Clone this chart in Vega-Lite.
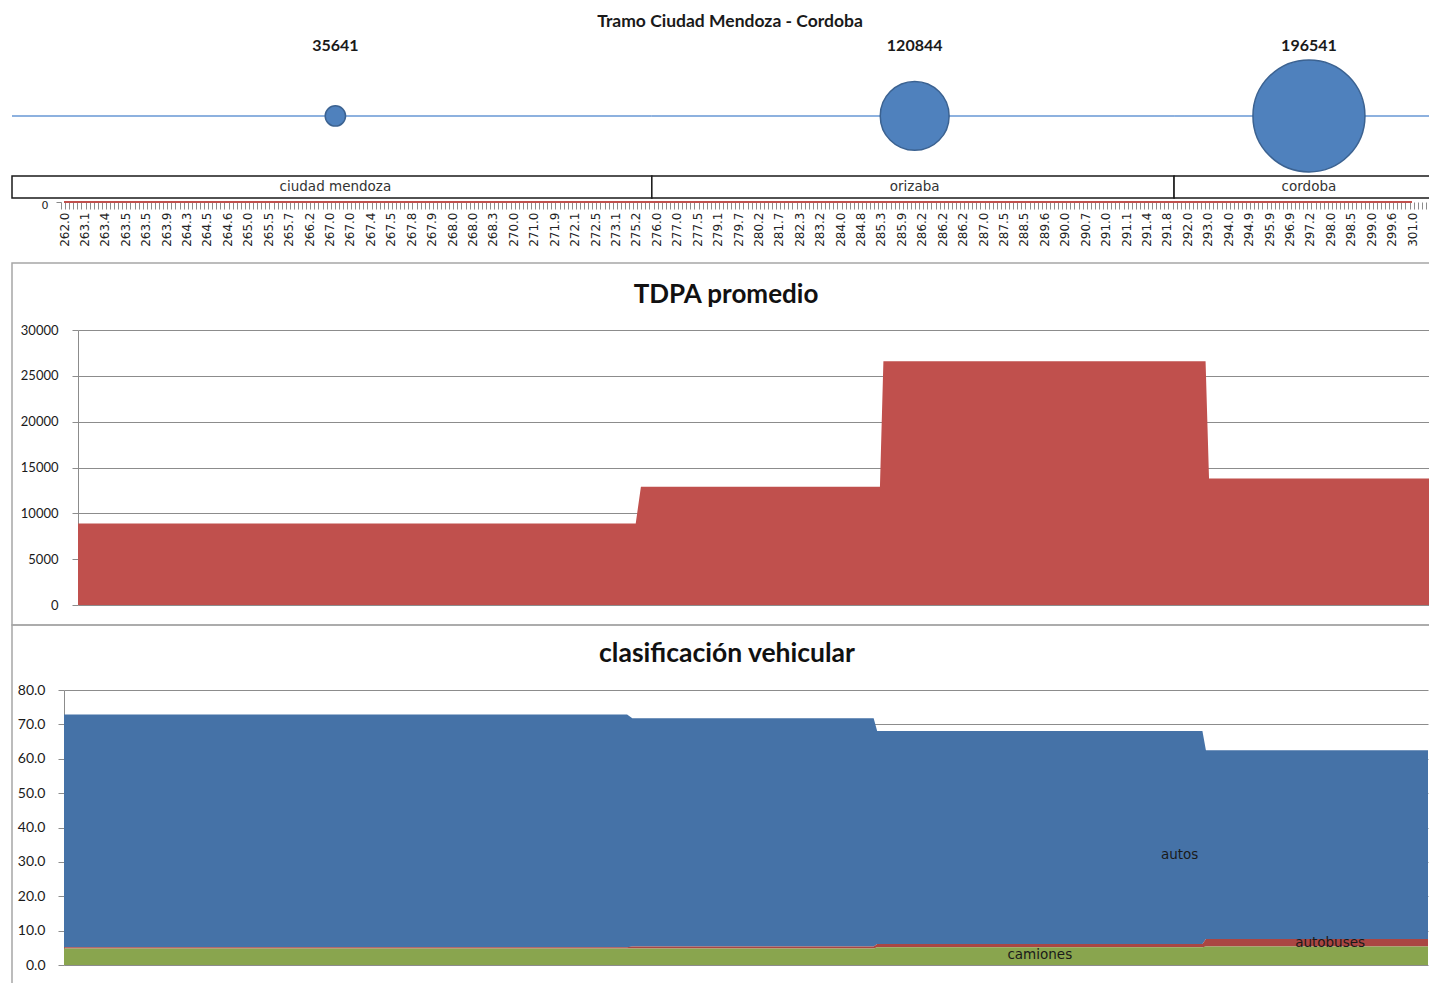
{
  "$schema": "https://vega.github.io/schema/vega-lite/v6.json",
  "padding": {"left": 11, "top": 0, "right": 0, "bottom": 0},
  "spacing": 0,
  "bounds": "flush",
  "config": {
    "font": "Lato",
    "view": {"stroke": null},
    "axis": {"labelFont": "Lato"},
    "title": {"font": "Lato"}
  },
  "datasets": {
    "tramos": [
      {"zona": "ciudad mendoza", "inicio": 260.5, "fin": 279.0, "km": 269.85, "vehiculos": 35641},
      {"zona": "orizaba", "inicio": 279.0, "fin": 294.1, "km": 286.6, "vehiculos": 120844},
      {"zona": "cordoba", "inicio": 294.1, "fin": 301.5, "km": 298.0, "vehiculos": 196541}
    ],
    "etiquetas_km": [
      {"km": "262.0"}, {"km": "263.1"}, {"km": "263.4"}, {"km": "263.5"}, {"km": "263.5 "}, {"km": "263.9"},
      {"km": "264.3"}, {"km": "264.5"}, {"km": "264.6"}, {"km": "265.0"}, {"km": "265.5"}, {"km": "265.7"},
      {"km": "266.2"}, {"km": "267.0"}, {"km": "267.0 "}, {"km": "267.4"}, {"km": "267.5"}, {"km": "267.8"},
      {"km": "267.9"}, {"km": "268.0"}, {"km": "268.0 "}, {"km": "268.3"}, {"km": "270.0"}, {"km": "271.0"},
      {"km": "271.9"}, {"km": "272.1"}, {"km": "272.5"}, {"km": "273.1"}, {"km": "275.2"}, {"km": "276.0"},
      {"km": "277.0"}, {"km": "277.5"}, {"km": "279.1"}, {"km": "279.7"}, {"km": "280.2"}, {"km": "281.7"},
      {"km": "282.3"}, {"km": "283.2"}, {"km": "284.0"}, {"km": "284.8"}, {"km": "285.3"}, {"km": "285.9"},
      {"km": "286.2"}, {"km": "286.2 "}, {"km": "286.2  "}, {"km": "287.0"}, {"km": "287.5"}, {"km": "288.5"},
      {"km": "289.6"}, {"km": "290.0"}, {"km": "290.7"}, {"km": "291.0"}, {"km": "291.1"}, {"km": "291.4"},
      {"km": "291.8"}, {"km": "292.0"}, {"km": "293.0"}, {"km": "294.0"}, {"km": "294.9"}, {"km": "295.9"},
      {"km": "296.9"}, {"km": "297.2"}, {"km": "298.0"}, {"km": "298.5"}, {"km": "299.0"}, {"km": "299.6"},
      {"km": "301.0"}
    ],
    "tdpa": [
      {"km": 262.0, "tdpa": 8900}, {"km": 278.1, "tdpa": 8900},
      {"km": 278.25, "tdpa": 12900}, {"km": 285.15, "tdpa": 12900},
      {"km": 285.25, "tdpa": 26600}, {"km": 294.55, "tdpa": 26600},
      {"km": 294.65, "tdpa": 13800}, {"km": 301.0, "tdpa": 13800}
    ],
    "clasificacion": [
      {"km": 262.0, "tipo": "autos", "serie": 3, "porcentaje": 67.7}, {"km": 278.1, "tipo": "autos", "serie": 3, "porcentaje": 67.7},
      {"km": 278.25, "tipo": "autos", "serie": 3, "porcentaje": 66.4}, {"km": 285.15, "tipo": "autos", "serie": 3, "porcentaje": 66.4},
      {"km": 285.25, "tipo": "autos", "serie": 3, "porcentaje": 62.0}, {"km": 294.55, "tipo": "autos", "serie": 3, "porcentaje": 62.0},
      {"km": 294.65, "tipo": "autos", "serie": 3, "porcentaje": 54.9}, {"km": 301.0, "tipo": "autos", "serie": 3, "porcentaje": 54.9},
      {"km": 262.0, "tipo": "autobuses", "serie": 2, "porcentaje": 0.4}, {"km": 278.1, "tipo": "autobuses", "serie": 2, "porcentaje": 0.4},
      {"km": 278.25, "tipo": "autobuses", "serie": 2, "porcentaje": 0.6}, {"km": 285.15, "tipo": "autobuses", "serie": 2, "porcentaje": 0.6},
      {"km": 285.25, "tipo": "autobuses", "serie": 2, "porcentaje": 0.9}, {"km": 294.55, "tipo": "autobuses", "serie": 2, "porcentaje": 0.9},
      {"km": 294.65, "tipo": "autobuses", "serie": 2, "porcentaje": 2.2}, {"km": 301.0, "tipo": "autobuses", "serie": 2, "porcentaje": 2.2},
      {"km": 262.0, "tipo": "camiones", "serie": 1, "porcentaje": 4.8}, {"km": 278.1, "tipo": "camiones", "serie": 1, "porcentaje": 4.8},
      {"km": 278.25, "tipo": "camiones", "serie": 1, "porcentaje": 4.8}, {"km": 285.15, "tipo": "camiones", "serie": 1, "porcentaje": 4.8},
      {"km": 285.25, "tipo": "camiones", "serie": 1, "porcentaje": 5.2}, {"km": 294.55, "tipo": "camiones", "serie": 1, "porcentaje": 5.2},
      {"km": 294.65, "tipo": "camiones", "serie": 1, "porcentaje": 5.4}, {"km": 301.0, "tipo": "camiones", "serie": 1, "porcentaje": 5.4}
    ],
    "etiquetas_clasif": [
      {"km": 293.9, "porcentaje": 32.1, "tipo": "autos"},
      {"km": 298.2, "porcentaje": 6.5, "tipo": "autobuses"},
      {"km": 289.9, "porcentaje": 3.0, "tipo": "camiones"}
    ]
  },
  "vconcat": [
    {
      "width": 1418,
      "height": 176,
      "title": {"text": "Tramo Ciudad Mendoza - Cordoba", "fontSize": 17.5, "fontWeight": "bold", "color": "#1a1a1a", "offset": -20, "baseline": "middle", "dx": 9, "dy": 19.5},
      "data": {"name": "tramos"},
      "encoding": {
        "y": {"datum": 1, "type": "quantitative", "scale": {"domain": [0, 2.93]}, "axis": null}
      },
      "layer": [
        {
          "mark": {"type": "rule", "color": "#8DB1DF", "strokeWidth": 2},
          "encoding": {
            "x": {"field": "inicio", "type": "quantitative", "scale": {"domain": [260.5, 301.5], "nice": false, "zero": false}, "axis": null},
            "x2": {"field": "fin"}
          }
        },
        {
          "mark": {"type": "point", "shape": "circle", "filled": true, "fill": "#4F81BD", "stroke": "#3B6291", "strokeWidth": 1.5, "opacity": 1},
          "encoding": {
            "x": {"field": "km", "type": "quantitative"},
            "size": {"field": "vehiculos", "type": "quantitative", "scale": {"type": "pow", "exponent": 2, "domain": [0, 196541], "range": [0, 12544]}, "legend": null}
          }
        },
        {
          "mark": {"type": "text", "dy": -70, "fontSize": 16, "fontWeight": "bold", "color": "#1a1a1a"},
          "encoding": {
            "x": {"field": "km", "type": "quantitative"},
            "text": {"field": "vehiculos", "type": "quantitative"}
          }
        }
      ]
    },
    {
      "width": 1418,
      "height": 22,
      "data": {"name": "tramos"},
      "layer": [
        {
          "mark": {"type": "rect", "fill": "#ffffff", "stroke": "#1a1a1a", "strokeWidth": 1.5},
          "encoding": {
            "x": {"field": "inicio", "type": "quantitative", "scale": {"domain": [260.5, 301.5], "nice": false, "zero": false}, "axis": null},
            "x2": {"field": "fin"}
          }
        },
        {
          "mark": {"type": "text", "font": "DejaVu Sans", "fontSize": 13.5, "color": "#333333"},
          "encoding": {
            "x": {"field": "km", "type": "quantitative"},
            "text": {"field": "zona"}
          }
        }
      ]
    },
    {
      "width": 1418,
      "height": 65,
      "layer": [
        {
          "data": {"name": "etiquetas_km"},
          "mark": {"type": "line", "color": "#C0504D", "strokeWidth": 2},
          "encoding": {
            "x": {"field": "km", "type": "ordinal", "sort": null, "scale": {"type": "point", "padding": 0, "range": [52, 1400]},
              "axis": {"orient": "bottom", "offset": -61, "ticks": false, "domain": false, "labelAngle": -90, "labelPadding": 10, "labelFont": "DejaVu Sans", "labelFontSize": 12, "labelColor": "#222222", "labelExpr": "trim(datum.label)", "labelOverlap": false, "title": null}},
            "y": {"datum": 0, "type": "quantitative", "scale": {"domain": [0, 1], "range": [4, 0]},
              "axis": {"orient": "left", "offset": -49, "values": [0], "domain": false, "grid": false, "tickSize": 5, "tickColor": "#888888", "labelPadding": 8, "labelOffset": 3, "labelFont": "DejaVu Sans", "labelFontSize": 11, "labelColor": "#222222", "title": null}}
          }
        },
        {
          "data": {"values": [{}]},
          "mark": {"type": "rule", "opacity": 0},
          "encoding": {
            "x": {"datum": 0, "type": "quantitative", "scale": {"domain": [0, 335], "range": [49, 1418], "nice": false},
              "axis": {"orient": "bottom", "offset": -61, "labels": false, "domain": false, "grid": false, "tickCount": 335, "tickSize": 7, "tickColor": "#8C8C8C", "tickWidth": 1, "title": null}}
          }
        }
      ],
      "resolve": {"scale": {"x": "independent"}, "axis": {"x": "independent"}}
    },
    {
      "width": 1418,
      "height": 362,
      "view": {"stroke": "#A6A6A6", "strokeWidth": 1.5},
      "title": {"text": "TDPA promedio", "fontSize": 26, "fontWeight": "bold", "color": "#111111", "offset": -30, "baseline": "middle", "dx": 5, "dy": 28},
      "data": {"name": "tdpa"},
      "mark": {"type": "area", "color": "#C0504D", "opacity": 1},
      "encoding": {
        "x": {"field": "km", "type": "quantitative", "scale": {"domain": [262, 301], "range": [66, 1417], "nice": false, "zero": false}, "axis": null},
        "y": {"field": "tdpa", "type": "quantitative", "scale": {"domain": [0, 30000], "range": [342, 67], "nice": false},
          "axis": {"orient": "left", "offset": -66, "values": [0, 5000, 10000, 15000, 20000, 25000, 30000], "format": "d", "grid": true, "gridColor": "#8C8C8C", "gridWidth": 1, "domainColor": "#8C8C8C", "tickColor": "#8C8C8C", "tickSize": 6, "labelPadding": 14, "labelFontSize": 13, "labelColor": "#1a1a1a", "title": null}}
      }
    },
    {
      "width": 1418,
      "height": 364,
      "view": {"stroke": "#A6A6A6", "strokeWidth": 1.5},
      "title": {"text": "clasificación vehicular", "fontSize": 26.5, "fontWeight": "bold", "color": "#111111", "offset": -28, "baseline": "middle", "dx": 6, "dy": 27.5},
      "layer": [
        {
          "data": {"name": "clasificacion"},
          "mark": {"type": "area", "opacity": 1},
          "encoding": {
            "x": {"field": "km", "type": "quantitative", "scale": {"domain": [262, 301], "range": [52, 1416], "nice": false, "zero": false}, "axis": null},
            "y": {"field": "porcentaje", "type": "quantitative", "stack": "zero", "scale": {"domain": [0, 80], "range": [340, 65], "nice": false},
              "axis": {"orient": "left", "offset": -52, "values": [0, 10, 20, 30, 40, 50, 60, 70, 80], "format": ".1f", "grid": true, "gridColor": "#8C8C8C", "gridWidth": 1, "domainColor": "#8C8C8C", "tickColor": "#8C8C8C", "tickSize": 6, "labelPadding": 13, "labelFontSize": 14, "labelColor": "#1a1a1a", "title": null}},
            "color": {"field": "tipo", "type": "nominal", "scale": {"domain": ["autos", "autobuses", "camiones"], "range": ["#4572A7", "#AA4643", "#89A54E"]}, "legend": null},
            "order": {"field": "serie", "type": "quantitative", "sort": "ascending"}
          }
        },
        {
          "data": {"name": "etiquetas_clasif"},
          "mark": {"type": "text", "font": "DejaVu Sans", "fontSize": 13.5, "color": "#1a1a1a"},
          "encoding": {
            "x": {"field": "km", "type": "quantitative"},
            "y": {"field": "porcentaje", "type": "quantitative"},
            "text": {"field": "tipo"}
          }
        }
      ]
    }
  ]
}
